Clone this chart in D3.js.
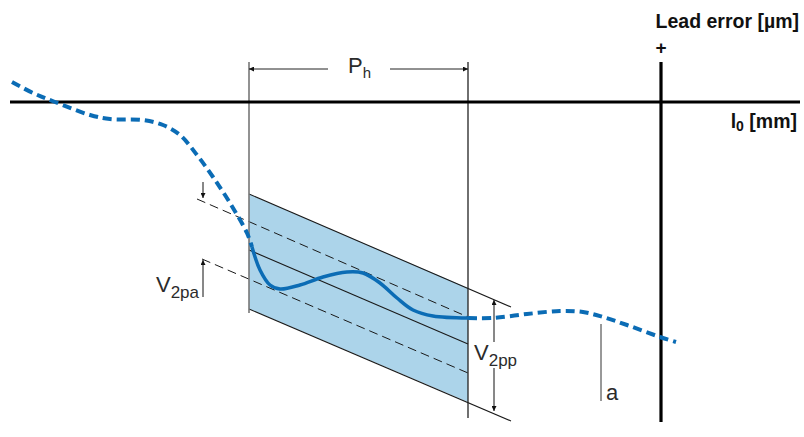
<!DOCTYPE html>
<html>
<head>
<meta charset="utf-8">
<script src="https://cdn.jsdelivr.net/npm/d3@7"></script>
<style>
  body { margin: 0; background: #fff; }
  svg text { font-family: "Liberation Sans", Arial, sans-serif; }
</style>
</head>
<body>
<div id="canvas"></div>
<script>
// data: l0 in mm (0 = lead error axis), lead error in µm (0 = l0 axis)
const xRange = [-651, 139];
const yRange = [40, -320];

// measured lead error curve
const curveBefore = [[-649, 20], [-628, 9], [-606, 0], [-571, -13], [-551, -17], [-518, -18],
  [-498, -23], [-481, -33], [-464, -53], [-448, -75], [-431, -101], [-414, -131], [-409, -145]];
const curveInside = [[-409, -145], [-401, -168], [-391, -183], [-381, -187], [-361, -183],
  [-338, -175], [-314, -170], [-298, -171], [-281, -181], [-264, -196], [-248, -208],
  [-228, -214], [-193, -216]];
const curveAfter = [[-193, -216], [-168, -216], [-134, -212], [-101, -209], [-78, -210],
  [-58, -215], [-34, -223], [-1, -235], [15, -240]];

// Ph window and tolerance band
const phStart = -412, phEnd = -193;
const bandFill = [[-412, -92], [-193, -186], [-193, -300], [-412, -207]];
const bandTop = [[-412, -92], [-150, -205]];
const bandBottom = [[-412, -207], [-150, -319]];
const meanLine = [[-412, -148], [-193, -242]];
const upperDashed = [[-464, -97], [-193, -215]];
const lowerDashed = [[-459, -157], [-193, -271]];

const width = 804, height = 437;

const svg = d3.select('#canvas')
  .append('svg')
  .attr('width', width)
  .attr('height', height);

// scales
const x = d3.scaleLinear().domain(xRange).range([10, 800]);
const y = d3.scaleLinear().domain(yRange).range([62, 422]);

const blue = '#0b6cb5';
const ink = '#2b2b2b';

// arrow marker
const defs = svg.append('defs');
defs.append('marker')
  .attr('id', 'arrow')
  .attr('viewBox', '0 0 10 10')
  .attr('refX', 10).attr('refY', 5)
  .attr('markerWidth', 7).attr('markerHeight', 5)
  .attr('markerUnits', 'userSpaceOnUse')
  .attr('orient', 'auto')
  .append('path')
  .attr('d', 'M0,0 L10,5 L0,10 Z')
  .attr('fill', '#111');

const line = d3.line()
  .x(d => x(d[0]))
  .y(d => y(d[1]));

// band fill
svg.append('path')
  .datum(bandFill)
  .attr('d', line.curve(d3.curveLinearClosed))
  .attr('fill', '#acd4ea');
line.curve(d3.curveLinear);

// band edges and mean line
[bandTop, bandBottom, meanLine].forEach(seg => {
  svg.append('path').datum(seg)
    .attr('d', line)
    .attr('stroke', '#1a1a1a').attr('stroke-width', 1.1).attr('fill', 'none');
});
[upperDashed, lowerDashed].forEach(seg => {
  svg.append('path').datum(seg)
    .attr('d', line)
    .attr('stroke', '#1a1a1a').attr('stroke-width', 1)
    .attr('stroke-dasharray', '9,5').attr('fill', 'none');
});

// Ph verticals
svg.append('line')
  .attr('x1', x(phStart)).attr('x2', x(phStart))
  .attr('y1', y(40)).attr('y2', y(-211))
  .attr('stroke', '#777').attr('stroke-width', 1.6);
svg.append('line')
  .attr('x1', x(phEnd)).attr('x2', x(phEnd))
  .attr('y1', y(40)).attr('y2', y(-316))
  .attr('stroke', '#222').attr('stroke-width', 1.3);

// Ph dimension
svg.append('line')
  .attr('x1', x(-333)).attr('x2', x(phStart))
  .attr('y1', y(33)).attr('y2', y(33))
  .attr('stroke', '#222').attr('stroke-width', 1)
  .attr('marker-end', 'url(#arrow)');
svg.append('line')
  .attr('x1', x(-271)).attr('x2', x(phEnd))
  .attr('y1', y(33)).attr('y2', y(33))
  .attr('stroke', '#222').attr('stroke-width', 1)
  .attr('marker-end', 'url(#arrow)');
const ph = svg.append('text')
  .attr('x', x(-313)).attr('y', y(29))
  .attr('font-size', 22).attr('fill', ink);
ph.append('tspan').text('P');
ph.append('tspan').attr('font-size', 15).attr('dy', 5).text('h');

// axes
svg.append('line')
  .attr('x1', x(xRange[0])).attr('x2', x(xRange[1]))
  .attr('y1', y(0)).attr('y2', y(0))
  .attr('stroke', '#000').attr('stroke-width', 3.2);
svg.append('line')
  .attr('x1', x(0)).attr('x2', x(0))
  .attr('y1', y(40)).attr('y2', y(yRange[1]))
  .attr('stroke', '#000').attr('stroke-width', 3.2);

svg.append('text')
  .attr('x', 799).attr('y', 28)
  .attr('text-anchor', 'end')
  .attr('font-size', 19.5).attr('font-weight', 'bold').attr('fill', '#111')
  .text('Lead error [µm]');
svg.append('text')
  .attr('x', x(0)).attr('y', 54)
  .attr('text-anchor', 'middle')
  .attr('font-size', 19).attr('font-weight', 'bold').attr('fill', '#111')
  .text('+');
const l0 = svg.append('text')
  .attr('x', 797).attr('y', 128)
  .attr('text-anchor', 'end')
  .attr('font-size', 19.5).attr('font-weight', 'bold').attr('fill', '#111');
l0.append('tspan').text('l');
l0.append('tspan').attr('font-size', 14).attr('dy', 3).text('0');
l0.append('tspan').attr('dy', -3).text(' [mm]');

// V2pa arrows
svg.append('line')
  .attr('x1', x(-458)).attr('x2', x(-458))
  .attr('y1', y(-80)).attr('y2', y(-96))
  .attr('stroke', '#111').attr('stroke-width', 1)
  .attr('marker-end', 'url(#arrow)');
svg.append('line')
  .attr('x1', x(-458)).attr('x2', x(-458))
  .attr('y1', y(-195)).attr('y2', y(-158))
  .attr('stroke', '#111').attr('stroke-width', 1)
  .attr('marker-end', 'url(#arrow)');
const v2pa = svg.append('text')
  .attr('x', x(-458) - 4).attr('y', y(-190))
  .attr('text-anchor', 'end')
  .attr('font-size', 22).attr('fill', ink);
v2pa.append('tspan').text('V');
v2pa.append('tspan').attr('font-size', 17).attr('dy', 6).text('2pa');

// V2pp arrows
svg.append('line')
  .attr('x1', x(-167)).attr('x2', x(-167))
  .attr('y1', y(-240)).attr('y2', y(-198))
  .attr('stroke', '#111').attr('stroke-width', 1)
  .attr('marker-end', 'url(#arrow)');
svg.append('line')
  .attr('x1', x(-167)).attr('x2', x(-167))
  .attr('y1', y(-266)).attr('y2', y(-309))
  .attr('stroke', '#111').attr('stroke-width', 1)
  .attr('marker-end', 'url(#arrow)');
const v2pp = svg.append('text')
  .attr('x', x(-187)).attr('y', y(-258))
  .attr('font-size', 22).attr('fill', ink);
v2pp.append('tspan').text('V');
v2pp.append('tspan').attr('font-size', 17).attr('dy', 6).text('2pp');

// a
svg.append('line')
  .attr('x1', x(-60)).attr('x2', x(-60))
  .attr('y1', y(-222)).attr('y2', y(-299))
  .attr('stroke', '#333').attr('stroke-width', 1);
svg.append('text')
  .attr('x', x(-60) + 5).attr('y', y(-298))
  .attr('font-size', 22).attr('fill', ink)
  .text('a');

// lead error curve
const curve = d3.line()
  .curve(d3.curveCatmullRom)
  .x(d => x(d[0]))
  .y(d => y(d[1]));

svg.append('path').datum(curveBefore)
  .attr('d', curve)
  .attr('fill', 'none').attr('stroke', blue).attr('stroke-width', 4)
  .attr('stroke-dasharray', '9,5');
svg.append('path').datum(curveInside)
  .attr('d', curve)
  .attr('fill', 'none').attr('stroke', blue).attr('stroke-width', 3.5);
svg.append('path').datum(curveAfter)
  .attr('d', curve)
  .attr('fill', 'none').attr('stroke', blue).attr('stroke-width', 4)
  .attr('stroke-dasharray', '9,5');
</script>
</body>
</html>
